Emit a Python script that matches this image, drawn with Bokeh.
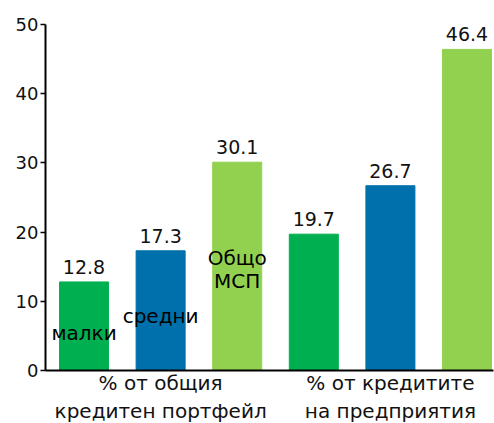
from bokeh.plotting import figure
from bokeh.models import ColumnDataSource, FixedTicker, Range1d
from bokeh.core.properties import value
from bokeh.embed import file_html
from bokeh.resources import INLINE

# data
groups = ["% от общия\nкредитен портфейл", "% от кредитите\nна предприятия"]
series = ["малки", "средни", "Общо\nМСП"]
values_group1 = [12.8, 17.3, 30.1]
values_group2 = [19.7, 26.7, 46.4]
colors = ["#00AF50", "#0070AC", "#92D050"]

FONT = "DejaVu Sans"

xs = [1, 2, 3, 4, 5, 6]
vals = values_group1 + values_group2
cols = colors + colors
labels = [f"{v:.1f}" for v in vals]

src = ColumnDataSource(dict(x=xs, top=vals, color=cols, label=labels))

p = figure(frame_width=448, frame_height=346, output_backend="svg", toolbar_location=None,
           x_range=Range1d(0.497, 6.346), y_range=Range1d(0, 50),
           min_border_left=45, min_border_right=1, min_border_top=24, min_border_bottom=0)
p.outline_line_color = None
p.xgrid.visible = False
p.ygrid.visible = False
p.background_fill_color = "white"

p.vbar(x="x", top="top", width=0.64, bottom=0, color="color", source=src)

p.text(x="x", y="top", text="label", source=src, text_align="center",
       text_baseline="alphabetic", y_offset=-15, text_font=value(FONT),
       text_font_size="19px", text_color="#111111")

# series labels inside the first group
ser_x = [1, 2, 3, 3]
ser_y = [5.45, 7.9, 16.2, 12.9]
ser_t = ["малки", "средни", "Общо", "МСП"]
p.text(x=ser_x, y=ser_y, text=ser_t, text_align="center", text_baseline="alphabetic",
       text_font=value(FONT), text_font_size="20px", text_color="#000000")

# axes
p.yaxis.ticker = FixedTicker(ticks=[0, 10, 20, 30, 40, 50])
p.yaxis.axis_line_width = 2
p.yaxis.axis_line_color = "black"
p.yaxis.major_tick_out = 5
p.yaxis.major_tick_in = 0
p.yaxis.major_tick_line_width = 1.5
p.yaxis.minor_tick_line_color = None
p.yaxis.major_label_text_font = FONT
p.yaxis.major_label_text_font_size = "18px"
p.yaxis.major_label_text_color = "#111111"
p.yaxis.major_label_standoff = 2

centers = [2, 5]
p.xaxis.ticker = FixedTicker(ticks=centers)
p.xaxis.major_label_overrides = {c: g for c, g in zip(centers, groups)}
p.xaxis.axis_line_width = 2
p.xaxis.axis_line_color = "black"
p.xaxis.major_tick_line_color = None
p.xaxis.major_tick_out = 0
p.xaxis.major_tick_in = 0
p.xaxis.minor_tick_line_color = None
p.xaxis.major_label_text_font = FONT
p.xaxis.major_label_text_font_size = "20px"
p.xaxis.major_label_text_color = "#111111"
p.xaxis.major_label_standoff = 0

open("out.html", "w").write(file_html(p, INLINE))
